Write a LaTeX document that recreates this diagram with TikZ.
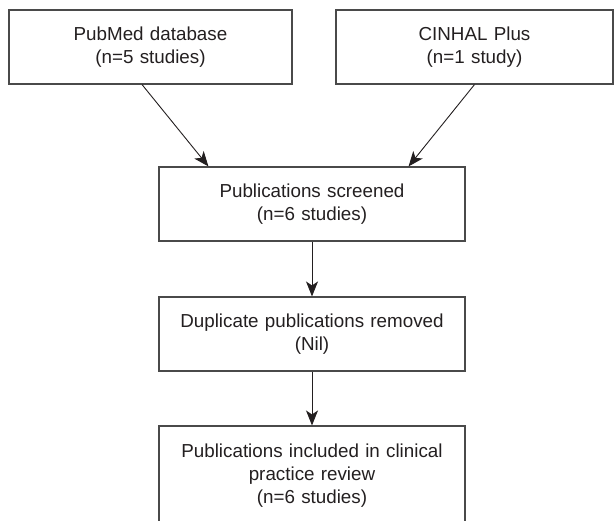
\documentclass[tikz,border=0pt]{standalone}
\usepackage{fontspec}
\setmainfont{Liberation Sans}
\definecolor{FlowInk}{HTML}{231F20}
\definecolor{FlowEdge}{HTML}{4A4A4A}
\usetikzlibrary{calc, arrows.meta, positioning}

\begin{document}
\begin{tikzpicture}[x=1pt, y=-1pt,
      flowbox/.style={draw=FlowEdge, line width=1.1pt, align=center, inner xsep=0pt,
         minimum height=74pt, text=FlowInk, font=\fontsize{18.8}{23}\selectfont},
      flowarrow/.style={-{Stealth[length=15pt, width=12pt, inset=4pt]}, line width=0.9pt, FlowInk}]
            % Canvas
            \clip (0,0) rectangle (614,521);
            % Sources
            \node[flowbox, text width=283pt] (pubmed) at (150.5,47) {PubMed database\\(n=5 studies)};
            \node[flowbox, text width=277pt] (cinhal) at (474.5,47) {CINHAL Plus\\(n=1 study)};
            % Screening steps
            \node[flowbox, text width=306pt] (screened) at (312,204) {Publications screened\\(n=6 studies)};
            \node[flowbox, text width=306pt] (duplicate) at (312,334) {Duplicate publications removed\\(Nil)};
            % Final box runs past the bottom edge
            \node[flowbox, text width=306pt, minimum height=100pt] (included) at (312,476)
               {Publications included in clinical\\practice review\\(n=6 studies)};
            % Arrows
            \draw[flowarrow] ($(pubmed.south)+(-8.5,0)$) -- ($(screened.north west)+(50,0)$);
            \draw[flowarrow] (cinhal.south) -- ($(screened.north east)+(-57,0)$);
            \draw[flowarrow] (screened) -- (duplicate);
            \draw[flowarrow] (duplicate) -- (included);
         \end{tikzpicture}
\end{document}
